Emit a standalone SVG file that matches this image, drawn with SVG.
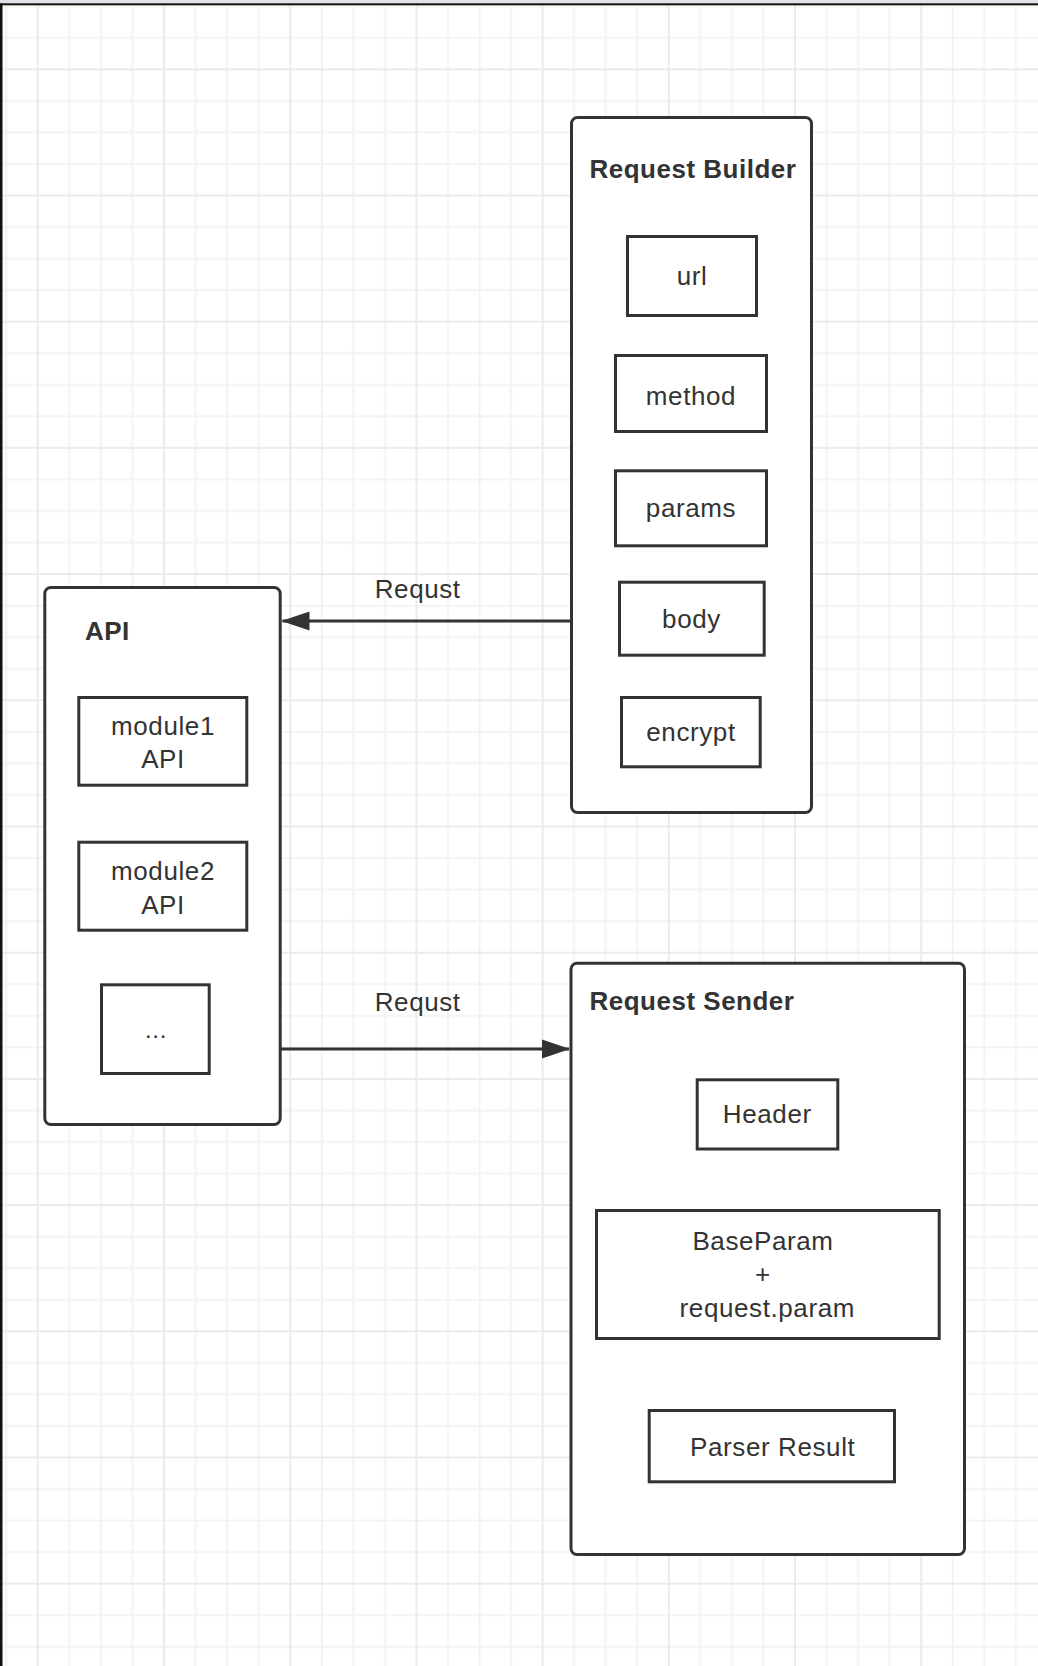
<svg xmlns="http://www.w3.org/2000/svg" width="1038" height="1666" viewBox="0 0 1038 1666">
  <style>
    .box { fill: #ffffff; stroke: #333333; stroke-width: 3; }
    .cont { fill: #ffffff; stroke: #333333; stroke-width: 3; }
    .lbl { font-family: "Liberation Sans", Arial, sans-serif; font-size: 26px; fill: #333333; text-anchor: middle; letter-spacing: 0.6px; }
    .ttl { font-family: "Liberation Sans", Arial, sans-serif; font-size: 26px; font-weight: bold; fill: #333333; letter-spacing: 0.5px; }
    .edge { fill: none; stroke: #333333; stroke-width: 3; }
    .elbl { font-family: "Liberation Sans", Arial, sans-serif; font-size: 26px; fill: #333333; text-anchor: middle; letter-spacing: 0.6px; }
  </style>
  <defs>
    <pattern id="grid" patternUnits="userSpaceOnUse" x="36.8" y="68.3" width="126.2" height="126.2">
      <rect x="31.55" y="0" width="2" height="126.2" fill="#f3f3f3"/>
      <rect x="63.1" y="0" width="2" height="126.2" fill="#f3f3f3"/>
      <rect x="94.65" y="0" width="2" height="126.2" fill="#f3f3f3"/>
      <rect x="0" y="31.55" width="126.2" height="2" fill="#f3f3f3"/>
      <rect x="0" y="63.1" width="126.2" height="2" fill="#f3f3f3"/>
      <rect x="0" y="94.65" width="126.2" height="2" fill="#f3f3f3"/>
      <rect x="0" y="0" width="2" height="126.2" fill="#ebebeb"/>
      <rect x="0" y="0" width="126.2" height="2" fill="#ebebeb"/>
    </pattern>
    <marker id="arrow" markerUnits="userSpaceOnUse" markerWidth="28" markerHeight="20" viewBox="0 0 28 20" refX="27" refY="10" orient="auto">
      <path d="M0,0.5 L28,10 L0,19.5 Z" fill="#333333"/>
    </marker>
  </defs>

  <rect x="0" y="0" width="1038" height="1666" fill="#ffffff"/>
  <rect x="0" y="0" width="1038" height="1666" fill="url(#grid)"/>
  <rect x="0" y="0" width="1038" height="3.3" fill="#dfe2e6"/>
  <rect x="0" y="3.3" width="1038" height="2" fill="#111111"/>
  <rect x="0" y="3.3" width="2.5" height="1662.7" fill="#111111"/>

  <g id="request-builder">
    <rect class="cont" x="571.5" y="117.5" width="240" height="695" rx="6"/>
    <text class="ttl" x="589.5" y="178.3">Request Builder</text>
  </g>
  <g id="url">
    <rect class="box" x="627.5" y="236.5" width="129" height="79"/>
    <text class="lbl" x="692" y="285">url</text>
  </g>
  <g id="method">
    <rect class="box" x="615.5" y="355.5" width="151" height="76"/>
    <text class="lbl" x="691" y="405">method</text>
  </g>
  <g id="params">
    <rect class="box" x="615.5" y="470.8" width="151" height="75"/>
    <text class="lbl" x="691" y="517">params</text>
  </g>
  <g id="body">
    <rect class="box" x="619.5" y="582.2" width="144.7" height="73"/>
    <text class="lbl" x="691.5" y="628">body</text>
  </g>
  <g id="encrypt">
    <rect class="box" x="621.5" y="697.5" width="138.7" height="69.3"/>
    <text class="lbl" x="691" y="741">encrypt</text>
  </g>

  <g id="api">
    <rect class="cont" x="44.8" y="587.5" width="235.4" height="537" rx="6"/>
    <text class="ttl" x="85" y="640">API</text>
  </g>
  <g id="module1-api">
    <rect class="box" x="78.8" y="697.5" width="168" height="87.7"/>
    <text class="lbl" x="163" y="735">module1</text>
    <text class="lbl" x="163" y="768.3">API</text>
  </g>
  <g id="module2-api">
    <rect class="box" x="78.8" y="842.2" width="168" height="88"/>
    <text class="lbl" x="163" y="880">module2</text>
    <text class="lbl" x="163" y="914">API</text>
  </g>
  <g id="more">
    <rect class="box" x="101.5" y="984.8" width="107.7" height="88.7"/>
    <text class="lbl" x="156" y="1038" style="font-size:24px">...</text>
  </g>

  <g id="request-sender">
    <rect class="cont" x="571" y="963.2" width="393.5" height="591.3" rx="6"/>
    <text class="ttl" x="589.5" y="1010">Request Sender</text>
  </g>
  <g id="header">
    <rect class="box" x="697.2" y="1079.8" width="140.6" height="69.2"/>
    <text class="lbl" x="767.3" y="1123.3">Header</text>
  </g>
  <g id="baseparam">
    <rect class="box" x="596.5" y="1210.5" width="342.7" height="128"/>
    <text class="lbl" x="763" y="1250">BaseParam</text>
    <text class="lbl" x="763" y="1283.3">+</text>
    <text class="lbl" x="767.3" y="1316.7">request.param</text>
  </g>
  <g id="parser-result">
    <rect class="box" x="649.2" y="1410.5" width="245.3" height="71.3"/>
    <text class="lbl" x="772.7" y="1456">Parser Result</text>
  </g>

  <g id="connectors">
    <g id="edge-builder-api">
      <line class="edge" x1="571.5" y1="621" x2="282.5" y2="621" marker-end="url(#arrow)"/>
      <text class="elbl" x="417.7" y="598.3">Requst</text>
    </g>
    <g id="edge-api-sender">
      <line class="edge" x1="280.2" y1="1049" x2="569" y2="1049" marker-end="url(#arrow)"/>
      <text class="elbl" x="417.7" y="1010.7">Requst</text>
    </g>
  </g>
</svg>
